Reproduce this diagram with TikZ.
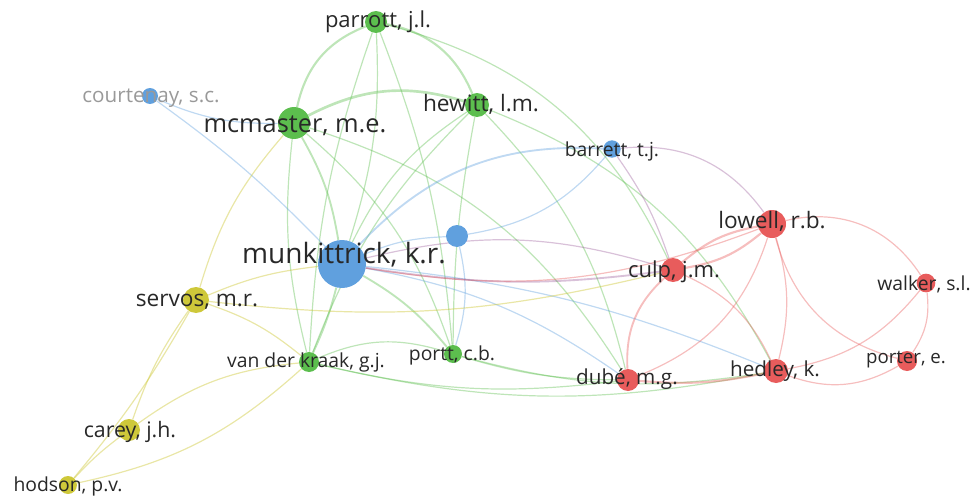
\documentclass[tikz,border=0pt]{standalone}
\usepackage{fontspec}
\setmainfont{Open Sans}
\usetikzlibrary{backgrounds}
\definecolor{vgreen}{RGB}{92,190,78}
\definecolor{vblue}{RGB}{96,160,222}
\definecolor{vred}{RGB}{232,92,92}
\definecolor{vyellow}{RGB}{206,200,58}
\definecolor{labgray}{RGB}{40,40,40}
\begin{document}
\begin{tikzpicture}[x=0.75pt,y=-0.75pt,
    author/.style={circle,inner sep=0pt,minimum size=#1},
    gauthor/.style={author=#1,fill=vgreen},
    bauthor/.style={author=#1,fill=vblue},
    rauthor/.style={author=#1,fill=vred},
    yauthor/.style={author=#1,fill=vyellow},
    lab/.style={text=labgray,font=\fontsize{#1}{#1}\selectfont,inner sep=0pt},
    lab/.default=15pt,
    glink/.style={draw=vgreen,draw opacity=0.4,line width=0.9pt},
    blink/.style={draw=vblue,draw opacity=0.4,line width=0.9pt},
    rlink/.style={draw=vred,draw opacity=0.4,line width=0.9pt},
    ylink/.style={draw=vyellow,draw opacity=0.45,line width=0.9pt},
    plink/.style={draw=violet!60!gray,draw opacity=0.3,line width=0.9pt}]
\useasboundingbox (0,0) rectangle (976,496);

% authors
\node[gauthor=16.5pt] (parrott) at (376,22) {};
\node[bauthor=12pt] (courtenay) at (150,96) {};
\node[gauthor=24pt] (mcmaster) at (294,123) {};
\node[gauthor=18pt] (hewitt) at (477,105) {};
\node[bauthor=13pt] (barrett) at (612,149) {};
\node[bauthor=36pt] (munkittrick) at (342,264) {};
\node[bauthor=16.5pt] (blue) at (457,236) {};
\node[rauthor=21pt] (lowell) at (772,224) {};
\node[rauthor=18pt] (culp) at (673,270) {};
\node[rauthor=14pt] (walker) at (926,283) {};
\node[yauthor=19.5pt] (servos) at (196,300) {};
\node[gauthor=15pt] (vanderkraak) at (309,362) {};
\node[gauthor=13.5pt] (portt) at (453,354) {};
\node[rauthor=16.5pt] (dube) at (628,380) {};
\node[rauthor=18pt] (hedley) at (776,371) {};
\node[rauthor=15pt] (porter) at (907,361) {};
\node[yauthor=16.5pt] (carey) at (129,430) {};
\node[yauthor=13.5pt] (hodson) at (68,485) {};

% links
\begin{scope}[on background layer]
\draw[glink,line width=1.6pt] (mcmaster) to[bend left=28] (parrott);
\draw[glink,line width=1.6pt] (parrott) to[bend left=28] (hewitt);
\draw[glink,line width=2pt] (mcmaster) to[bend left=22] (hewitt);
\draw[glink] (parrott) to[bend right=8] (vanderkraak);
\draw[glink] (parrott) to[bend left=8] (portt);
\draw[glink] (parrott) to[bend left=10] (munkittrick);
\draw[glink] (parrott) to[bend left=25] (culp);
\draw[glink,line width=1.4pt] (mcmaster) to[bend left=10] (munkittrick);
\draw[glink] (mcmaster) to[bend right=10] (vanderkraak);
\draw[glink] (mcmaster) to[bend left=15] (portt);
\draw[glink] (mcmaster) to[bend left=20] (dube);
\draw[glink] (hewitt) to[bend right=15] (munkittrick);
\draw[glink] (hewitt) to[bend right=12] (vanderkraak);
\draw[glink] (hewitt) to[bend right=5] (portt);
\draw[glink] (hewitt) to[bend left=15] (dube);
\draw[glink] (hewitt) to[bend left=20] (hedley);
\draw[glink,line width=1.4pt] (munkittrick) to[bend left=5] (vanderkraak);
\draw[glink,line width=1.4pt] (munkittrick) to[bend left=10] (portt);
\draw[glink] (vanderkraak) to[bend left=20] (portt);
\draw[glink] (vanderkraak) to[bend right=10] (dube);
\draw[glink] (vanderkraak) to[bend right=12] (hedley);
\draw[glink] (portt) to[bend right=8] (dube);
\draw[glink] (portt) to[bend right=12] (hedley);
\draw[blink] (courtenay) to[bend right=12] (mcmaster);
\draw[blink] (courtenay) to[bend left=5] (munkittrick);
\draw[blink,line width=1.4pt] (munkittrick) to[bend left=25] (barrett);
\draw[blink] (munkittrick) to[bend left=10] (blue);
\draw[blink] (blue) to[bend right=20] (barrett);
\draw[blink] (blue) to[bend left=15] (portt);
\draw[blink] (munkittrick) to[bend left=12] (dube);
\draw[blink] (munkittrick) to[bend left=8] (hedley);
\draw[plink] (munkittrick) to[bend left=15] (culp);
\draw[plink,line width=1.4pt] (munkittrick) to[bend right=8] (culp);
\draw[plink] (barrett) to[bend left=30] (lowell);
\draw[plink] (barrett) to[bend left=8] (culp);
\draw[ylink] (servos) to[bend left=12] (mcmaster);
\draw[ylink] (servos) to[bend left=8] (munkittrick);
\draw[ylink] (servos) to[bend left=10] (vanderkraak);
\draw[ylink] (servos) to[bend right=8] (carey);
\draw[ylink] (servos) to[bend left=5] (hodson);
\draw[ylink] (carey) to[bend right=5] (hodson);
\draw[ylink] (carey) to[bend left=15] (vanderkraak);
\draw[ylink] (hodson) to[bend right=15] (vanderkraak);
\draw[ylink] (servos) to[bend right=10] (culp);
\draw[rlink,line width=1.6pt] (culp) to[bend left=15] (lowell);
\draw[rlink,line width=1.6pt] (culp) to[bend right=15] (lowell);
\draw[rlink,line width=1.4pt] (dube) to[bend left=25] (culp);
\draw[rlink] (dube) to[bend right=25] (lowell);
\draw[rlink] (culp) to[bend left=20] (hedley);
\draw[rlink] (lowell) to[bend left=15] (hedley);
\draw[rlink] (lowell) to[bend left=35] (walker);
\draw[rlink] (lowell) to[bend right=30] (porter);
\draw[rlink,line width=1.6pt] (dube) to[bend right=8] (hedley);
\draw[rlink] (hedley) to[bend right=20] (walker);
\draw[rlink] (hedley) to[bend right=25] (porter);
\draw[rlink] (walker) to[bend left=20] (porter);
\draw[rlink] (munkittrick) to[bend right=15] (lowell);
\end{scope}

% labels
\node[lab=16.5pt] (parrottlab) at (378,22) {parrott, j.l.};
\node[lab=15.5pt,text=gray!80] (courtenaylab) at (151,98) {courtenay, s.c.};
\node[lab=19pt] (mcmasterlab) at (295,126) {mcmaster, m.e.};
\node[lab=17pt] (hewittlab) at (481,104) {hewitt, l.m.};
\node[lab=14.5pt] (barrettlab) at (612,151) {barrett, t.j.};
\node[lab=21pt] (munkittricklab) at (344,255) {munkittrick, k.r.};
\node[lab=17pt] (lowelllab) at (772,221) {lowell, r.b.};
\node[lab=16.5pt] (culplab) at (674,272) {culp, j.m.};
\node[lab=14.5pt] (walkerlab) at (924,284) {walker, s.l.};
\node[lab=17pt] (servoslab) at (197,302) {servos, m.r.};
\node[lab=14.5pt] (vanderkraaklab) at (306,362) {van der kraak, g.j.};
\node[lab=14.5pt] (porttlab) at (452,355) {portt, c.b.};
\node[lab=15.5pt] (dubelab) at (627,379) {dubé, m.g.};
\node[lab=15.5pt] (hedleylab) at (775,371) {hedley, k.};
\node[lab=14pt] (porterlab) at (906,360) {porter, e.};
\node[lab=16pt] (careylab) at (130,432) {carey, j.h.};
\node[lab=14.5pt] (hodsonlab) at (68,486) {hodson, p.v.};
\end{tikzpicture}
\end{document}
